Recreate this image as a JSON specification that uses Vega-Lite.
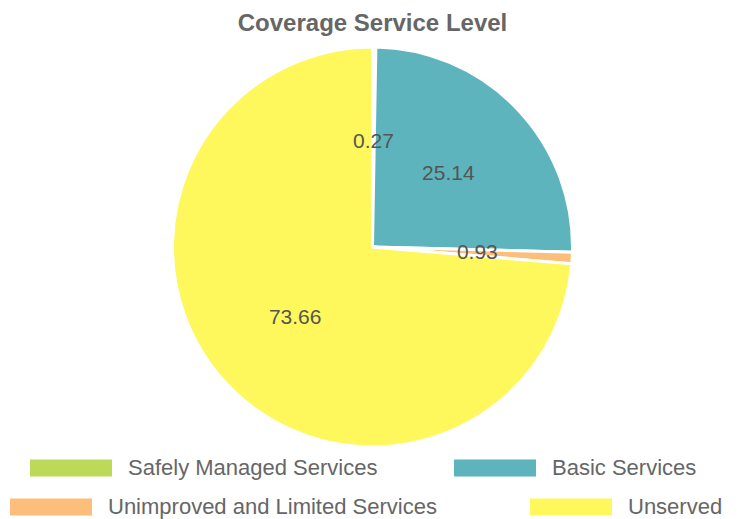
{
  "$schema": "https://vega.github.io/schema/vega-lite/v6.json",
  "width": 745,
  "height": 404,
  "autosize": {"type": "none"},
  "padding": {"top": 45, "bottom": 70, "left": 0, "right": 0},
  "background": "white",
  "title": {
    "text": "Coverage Service Level",
    "fontSize": 24,
    "font": "Liberation Sans",
    "fontWeight": "bold",
    "color": "#666666",
    "offset": 5
  },
  "data": {
    "values": [
      {"category": "Safely Managed Services", "value": 0.27, "order": 1, "row": 1},
      {"category": "Basic Services", "value": 25.14, "order": 2, "row": 1},
      {"category": "Unimproved and Limited Services", "value": 0.93, "order": 3, "row": 2},
      {"category": "Unserved", "value": 73.66, "order": 4, "row": 2}
    ]
  },
  "transform": [
    {"stack": "value", "groupby": [], "sort": [{"field": "order", "order": "ascending"}], "as": ["v0", "v1"]}
  ],
  "layer": [
    {
      "transform": [{"filter": "datum.row == 1"}],
      "mark": {"type": "arc", "outerRadius": 200, "stroke": "white", "strokeWidth": 3},
      "encoding": {
        "theta": {"field": "v0", "type": "quantitative", "scale": {"domain": [0, 100]}},
        "theta2": {"field": "v1"},
        "color": {
          "field": "category",
          "type": "nominal",
          "scale": {"domain": ["Safely Managed Services", "Basic Services"], "range": ["#bcd95a", "#5db4bc"]},
          "legend": {
            "orient": "none",
            "legendX": 30,
            "legendY": 382,
            "direction": "horizontal",
            "title": null,
            "labelFont": "Liberation Sans",
            "labelFontSize": 22,
            "labelColor": "#666666",
            "labelLimit": 400,
            "labelOffset": 16,
            "symbolType": "M-1,-0.21H1V0.21H-1Z",
            "symbolSize": 6724,
            "symbolStrokeWidth": 0,
            "symbolOpacity": 1,
            "columnPadding": 76,
            "padding": 0
          }
        }
      }
    },
    {
      "transform": [{"filter": "datum.row == 2"}],
      "mark": {"type": "arc", "outerRadius": 200, "stroke": "white", "strokeWidth": 3},
      "encoding": {
        "theta": {"field": "v0", "type": "quantitative", "scale": {"domain": [0, 100]}},
        "theta2": {"field": "v1"},
        "color": {
          "field": "category",
          "type": "nominal",
          "scale": {"domain": ["Unimproved and Limited Services", "Unserved"], "range": ["#fdbe7c", "#fef85c"]},
          "legend": {
            "orient": "none",
            "legendX": 10,
            "legendY": 421,
            "direction": "horizontal",
            "title": null,
            "labelFont": "Liberation Sans",
            "labelFontSize": 22,
            "labelColor": "#666666",
            "labelLimit": 500,
            "labelOffset": 16,
            "symbolType": "M-1,-0.21H1V0.21H-1Z",
            "symbolSize": 6724,
            "symbolStrokeWidth": 0,
            "symbolOpacity": 1,
            "columnPadding": 93,
            "padding": 0
          }
        }
      }
    },
    {
      "mark": {"type": "text", "radius": 105, "font": "Liberation Sans", "fontSize": 21, "fill": "#555555"},
      "encoding": {
        "theta": {"field": "value", "type": "quantitative", "stack": true, "scale": {"domain": [0, 100]}},
        "order": {"field": "order", "type": "quantitative"},
        "text": {"field": "value", "type": "quantitative", "format": ".2f"}
      }
    }
  ],
  "resolve": {"scale": {"color": "independent"}},
  "config": {"view": {"stroke": null}}
}
